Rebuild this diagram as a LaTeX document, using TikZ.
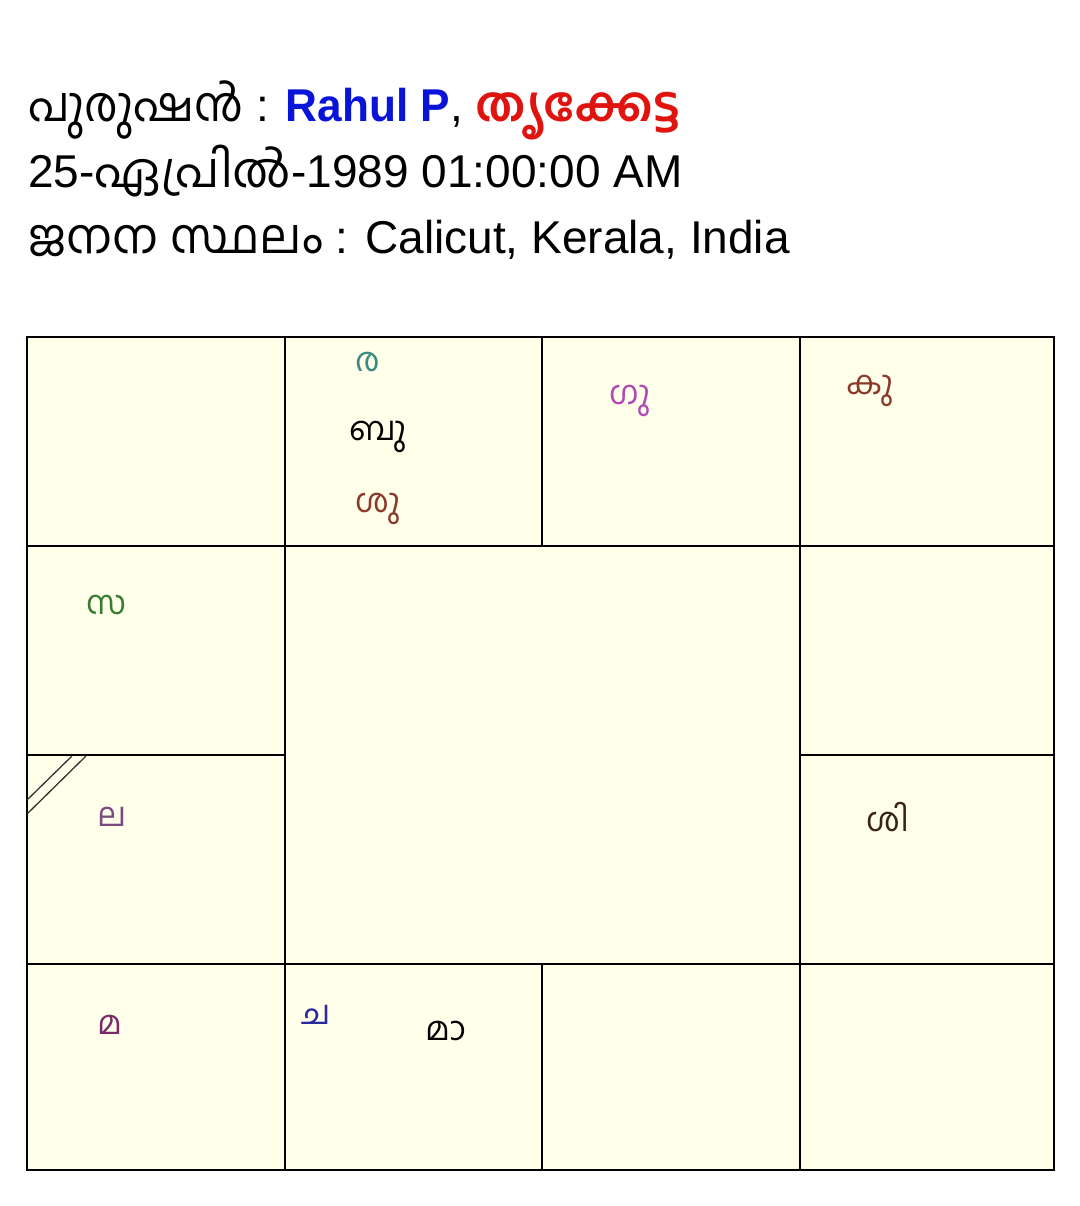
\documentclass[tikz,border=0pt]{standalone}
\usepackage{fontspec}
\setmainfont{Liberation Sans}
\newfontfamily\latbold{Liberation Sans}[FakeStretch=0.96]
\newfontfamily\malf[Script=Malayalam]{Hind Kochi}
\newfontfamily\malnarrowf[Script=Malayalam,FakeStretch=0.94]{Hind Kochi}
\newcommand{\mlm}[1]{{\malf\fontsize{48}{58}\selectfont #1}}
\newcommand{\mlmn}[1]{{\malnarrowf\fontsize{48}{58}\selectfont #1}}
\definecolor{cellbg}{HTML}{FFFFEA}
\definecolor{nameblue}{HTML}{0A14D8}
\definecolor{starred}{HTML}{E0140F}
\definecolor{cteal}{HTML}{3A8C82}
\definecolor{cbrown}{HTML}{8B3A2A}
\definecolor{cpurple}{HTML}{B048B8}
\definecolor{cgreen}{HTML}{3A7D32}
\definecolor{clagna}{HTML}{7A4A80}
\definecolor{cdark}{HTML}{3A2418}
\definecolor{cmandi}{HTML}{7A2A6A}
\definecolor{cblue}{HTML}{2A2AA0}
\begin{document}
\begin{tikzpicture}[x=1pt,y=-1pt,
  hdr/.style={anchor=base west,inner sep=0pt,font=\fontsize{46}{58}\selectfont},
  planet/.style={inner sep=0pt,font=\malf\fontsize{33}{36}\selectfont},
  gridline/.style={line width=2.7pt,black},
  hatch/.style={line width=1.3pt,black!80}]
\useasboundingbox[fill=white] (0,0) rectangle (1079,1206);
% header
\node[hdr] (l1) at (28,122) {\mlmn{പുരുഷൻ} : \textcolor{nameblue}{\latbold\bfseries Rahul P}, \textcolor{starred}{\bfseries\mlm{തൃക്കേട്ട}}};
\node[hdr] (l2) at (28,188) {25-\mlm{ഏപ്രിൽ}-1989 01:00:00 AM};
\node[hdr] (l3) at (28,253) {\mlm{ജനന സ്ഥലം} : Calicut, Kerala, India};
% chart
\fill[cellbg] (27,337) rectangle (1054,1170);
\draw[gridline] (27,337) rectangle (1054,1170);
\draw[gridline] (285,337) -- (285,1170);
\draw[gridline] (800,337) -- (800,1170);
\draw[gridline] (542,337) -- (542,546);
\draw[gridline] (542,964) -- (542,1170);
\draw[gridline] (27,546) -- (1054,546);
\draw[gridline] (27,964) -- (1054,964);
\draw[gridline] (27,755) -- (285,755);
\draw[gridline] (800,755) -- (1054,755);
\draw[hatch] (72,756) -- (27,800);
\draw[hatch] (86,756) -- (27,814);
% planets
\node[planet,text=cteal] (ra) at (368,362) {ര};
\node[planet,text=black] (bu) at (378,437) {ബു};
\node[planet,text=cbrown] (su) at (378,509) {ശു};
\node[planet,text=cpurple] (gu) at (630,401) {ഗു};
\node[planet,text=cbrown] (ku) at (870,391) {കു};
\node[planet,text=cgreen] (sa) at (106,605) {സ};
\node[planet,text=clagna] (la) at (112,817) {ല};
\node[planet,text=cdark] (si) at (888,817) {ശി};
\node[planet,text=cmandi] (ma) at (110,1025) {മ};
\node[planet,text=cblue] (ca) at (316,1015) {ച};
\node[planet,text=black] (maa) at (446,1031) {മാ};
\end{tikzpicture}
\end{document}
